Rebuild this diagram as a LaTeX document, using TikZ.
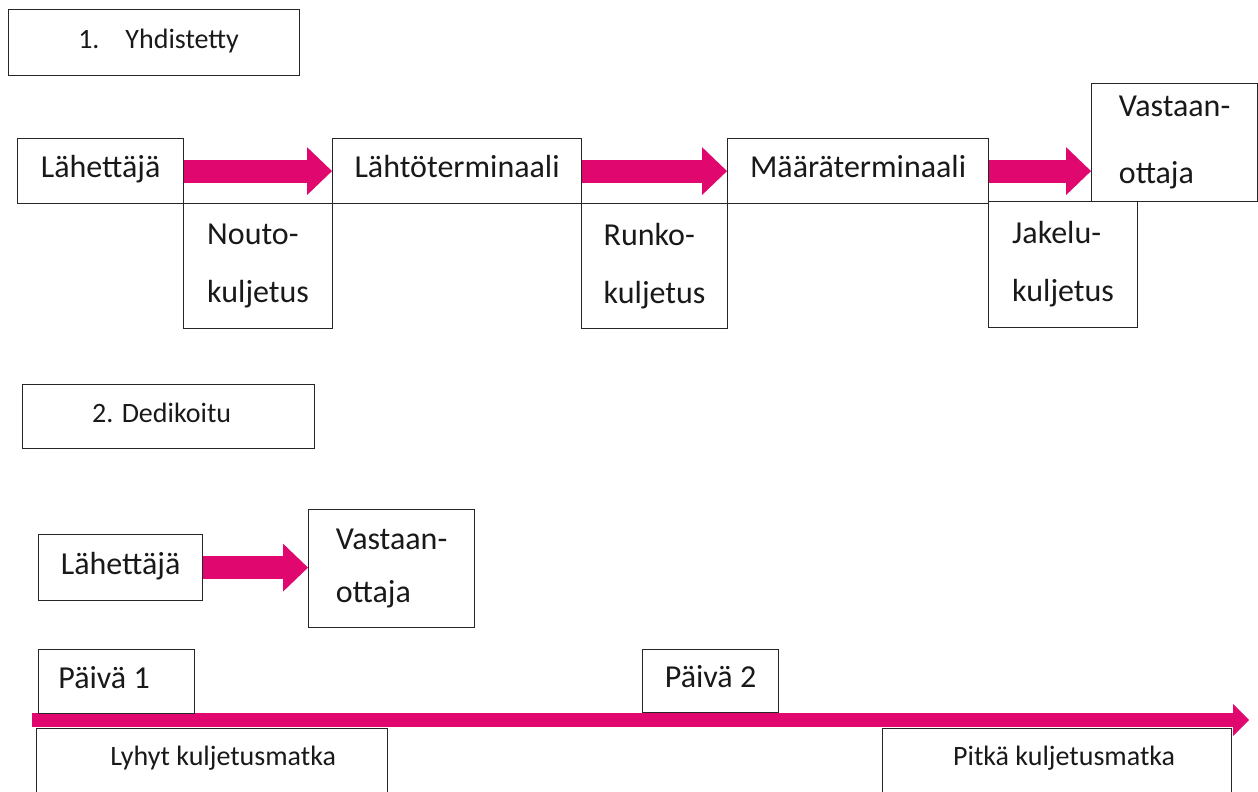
\documentclass[tikz,border=0pt]{standalone}
\usepackage{fontspec}
\setmainfont{Carlito}
\usepackage{xcolor}
\usepackage{tikz}
\usetikzlibrary{positioning}
\usetikzlibrary{arrows.meta}

\newcommand{\bigtext}{\fontsize{32}{38}\selectfont}
\newcommand{\smalltext}{\fontsize{28}{34}\selectfont}

\begin{document}
\begin{tikzpicture}
    [%%%%%%%%%%%%%%%%%%%%%%%%%%%%%%
        x=1pt, y=-1pt,
        box/.style={rectangle, draw=black!85, line width=1.2pt, anchor=north west,
            inner sep=0pt, text=black!90, font=\bigtext, text height=21pt, text depth=8pt},
        smallbox/.style={box, font=\smalltext, text height=18pt, text depth=7pt},
        tallbox/.style={rectangle, draw=black!85, line width=1.2pt, anchor=north west,
            inner sep=0pt, text=black!90, align=left, font=\fontsize{32}{58}\selectfont},
        openbox/.style={smallbox, inner ysep=19pt, text depth=50pt},
        fat/.style={draw=pinkbar, line width=23pt,
            -{Triangle[length=25pt, width=48pt, line width=0pt]}}
    ]%%%%%%%%%%%%%%%%%%%%%%%%%%%%%%
\definecolor{pinkbar}{RGB}{224,7,111}
\useasboundingbox (0,0) rectangle (1258,792);
\clip (0,0) rectangle (1258,792);

% 1. round
\node[smallbox, minimum width=291pt, minimum height=66pt] (yhd) at (8,9)
    {\hspace*{9pt}1.\hspace{26pt}Yhdistetty};

\node[box, minimum width=166pt, minimum height=65pt] (lah1) at (17,138) {Lähettäjä};
\node[tallbox, minimum width=149pt, minimum height=125pt] (nouto) at (183,203) {Nouto-\\kuljetus};
\node[box, minimum width=249pt, minimum height=65pt] (lahto) at (332,138) {Lähtöterminaali};
\node[tallbox, minimum width=146pt, minimum height=125pt] (runko) at (581,203) {Runko-\\kuljetus};
\node[box, minimum width=261pt, minimum height=65pt] (maara) at (727,138) {Määräterminaali};
\node[tallbox, minimum width=149pt, minimum height=126pt] (jakelu) at (988,201) {Jakelu-\\kuljetus};
\node[tallbox, font=\fontsize{32}{67}\selectfont, minimum width=166pt, minimum height=118pt]
    (vast1) at (1091,83) {Vastaan-\\ottaja};

\foreach \a/\b in {lah1/lahto, lahto/maara}
    \draw[fat] (\a.east) -- (\b.west);

\draw[fat, yshift=5pt] (maara.east) -- (maara.east -| vast1.west);

% 2. round
\node[smallbox, minimum width=292pt, minimum height=64pt] (ded) at (22,384)
    {2. Dedikoitu\hspace*{14pt}};

\node[box, minimum width=164pt, minimum height=66pt] (lah2) at (38,534) {Lähettäjä};
\node[tallbox, font=\fontsize{32}{53}\selectfont, minimum width=166pt, minimum height=118pt]
    (vast2) at (308,509) {Vastaan-\\ottaja};

\draw[fat] (lah2.east) -- (lah2.east -| vast2.west);

% timeline
\coordinate (start) at (32,720);
\coordinate (end) at (1249,720);
\draw[fat, line width=14pt, -{Triangle[length=16pt, width=32pt, line width=0pt]}] (start) -- (end);

\node[box, minimum width=156pt, minimum height=64pt] (paiva1) at (38,649) {Päivä 1\hspace*{25pt}};
\node[box, minimum width=136pt, minimum height=63pt] (paiva2) at (642,649) {Päivä 2};

\node[openbox, minimum width=351pt] (lyhyt) at (36,728) {\hspace*{22pt}Lyhyt kuljetusmatka};
\node[openbox, minimum width=349pt] (pitka) at (882,728) {\hspace*{14pt}Pitkä kuljetusmatka};

\end{tikzpicture}
\end{document}
